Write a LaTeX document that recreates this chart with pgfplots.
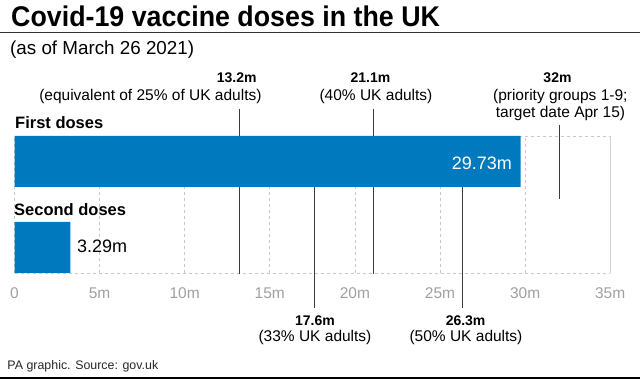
\documentclass[border=0pt]{standalone}
\usepackage{pgfplots}
\pgfplotsset{compat=1.18}
\usepackage{fontspec}
\setmainfont{Liberation Sans}
\newfontfamily\titlefont[FakeStretch=0.94]{Liberation Sans}
\definecolor{pablue}{RGB}{0,121,191}
\definecolor{gridgray}{RGB}{200,200,200}
\definecolor{ticklab}{RGB}{160,160,160}
\definecolor{refline}{RGB}{60,60,60}
\begin{document}
\begin{tikzpicture}
\path[use as bounding box] (0bp,0bp) rectangle (640bp,379bp);
\begin{axis}[
  at={(14.5bp,106bp)}, anchor=south west,
  scale only axis, width=595.7bp, height=137bp,
  xmin=0, xmax=35, ymin=0, ymax=137,
  enlargelimits=false, clip=false,
  axis line style={draw=none},
  xtick={0,5,...,35},
  xticklabels={0,5m,10m,15m,20m,25m,30m,35m},
  ytick={0,137}, yticklabels={},
  xmajorgrids, ymajorgrids,
  major grid style={gridgray, line width=0.8bp, dash pattern=on 3bp off 3bp},
  major tick length=0pt,
  xticklabel style={anchor=base, yshift=-26bp, text=ticklab, font=\fontsize{15.5bp}{17bp}\selectfont},
  /pgf/number format/assume math mode=true,
]
% right border
\addplot[gridgray!80, line width=0.8bp, forget plot] coordinates {(35,0) (35,137)};
% reference lines
\addplot[refline, line width=0.9bp] coordinates {(13.2,164) (13.2,-1)};
\addplot[refline, line width=0.9bp] coordinates {(21.1,164) (21.1,-1)};
\addplot[refline, line width=0.9bp] coordinates {(17.6,86) (17.6,-35)};
\addplot[refline, line width=0.9bp] coordinates {(26.3,86) (26.3,-35)};
\addplot[refline, line width=0.9bp] coordinates {(32,148) (32,74)};
% bars
\addplot[xbar, bar width=51, fill=pablue, draw=none] coordinates {(29.73,111.5) (3.29,25.5)};
\end{axis}
\begin{scope}[x=1bp, y=1bp]
% title
\node[anchor=base west, inner sep=0pt] at (11,353) {\titlefont\bfseries\fontsize{28.5bp}{30bp}\selectfont Covid-19 vaccine doses in the UK};
\draw[line width=1.2bp, black!80] (0,346.3) -- (640,346.3);
\node[anchor=base west, inner sep=0pt] at (10,325) {\fontsize{18.8bp}{20bp}\selectfont (as of March 26 2021)};
% category labels
\node[anchor=base west, inner sep=0pt] at (15,250.7) {\bfseries\fontsize{16.5bp}{18bp}\selectfont First doses};
\node[anchor=base west, inner sep=0pt] at (14,164) {\bfseries\fontsize{16.5bp}{18bp}\selectfont Second doses};
% value labels
\node[anchor=base east, inner sep=0pt, text=white] at (512,209.7) {\fontsize{18bp}{20bp}\selectfont 29.73m};
\node[anchor=base west, inner sep=0pt] at (77,126.3) {\fontsize{18bp}{20bp}\selectfont 3.29m};
% top annotations
\node[anchor=base, inner sep=0pt] at (236.7,296.7) {\bfseries\fontsize{14bp}{16bp}\selectfont 13.2m};
\node[anchor=base, inner sep=0pt] at (150.4,279) {\fontsize{15.5bp}{17bp}\selectfont (equivalent of 25\% of UK adults)};
\node[anchor=base, inner sep=0pt] at (370.5,296.7) {\bfseries\fontsize{14bp}{16bp}\selectfont 21.1m};
\node[anchor=base, inner sep=0pt] at (376,279) {\fontsize{15.5bp}{17bp}\selectfont (40\% UK adults)};
\node[anchor=base, inner sep=0pt] at (557.5,297) {\bfseries\fontsize{14bp}{16bp}\selectfont 32m};
\node[anchor=base, inner sep=0pt] at (560.3,278.7) {\fontsize{15.5bp}{17bp}\selectfont (priority groups 1-9;};
\node[anchor=base, inner sep=0pt] at (560.5,261.7) {\fontsize{15.5bp}{17bp}\selectfont target date Apr 15)};
% bottom annotations
\node[anchor=base, inner sep=0pt] at (315,54) {\bfseries\fontsize{14bp}{16bp}\selectfont 17.6m};
\node[anchor=base, inner sep=0pt] at (315,37.3) {\fontsize{15.5bp}{17bp}\selectfont (33\% UK adults)};
\node[anchor=base, inner sep=0pt] at (465.6,54) {\bfseries\fontsize{14bp}{16bp}\selectfont 26.3m};
\node[anchor=base, inner sep=0pt] at (466,37.3) {\fontsize{15.5bp}{17bp}\selectfont (50\% UK adults)};
% footer
\node[anchor=base west, inner sep=0pt, text=black!85] at (7.3,9.7) {\fontsize{12.4bp}{14bp}\selectfont PA graphic. Source: gov.uk};
\fill[black] (0,0) rectangle (640,2.5);
\end{scope}
\end{tikzpicture}
\end{document}
